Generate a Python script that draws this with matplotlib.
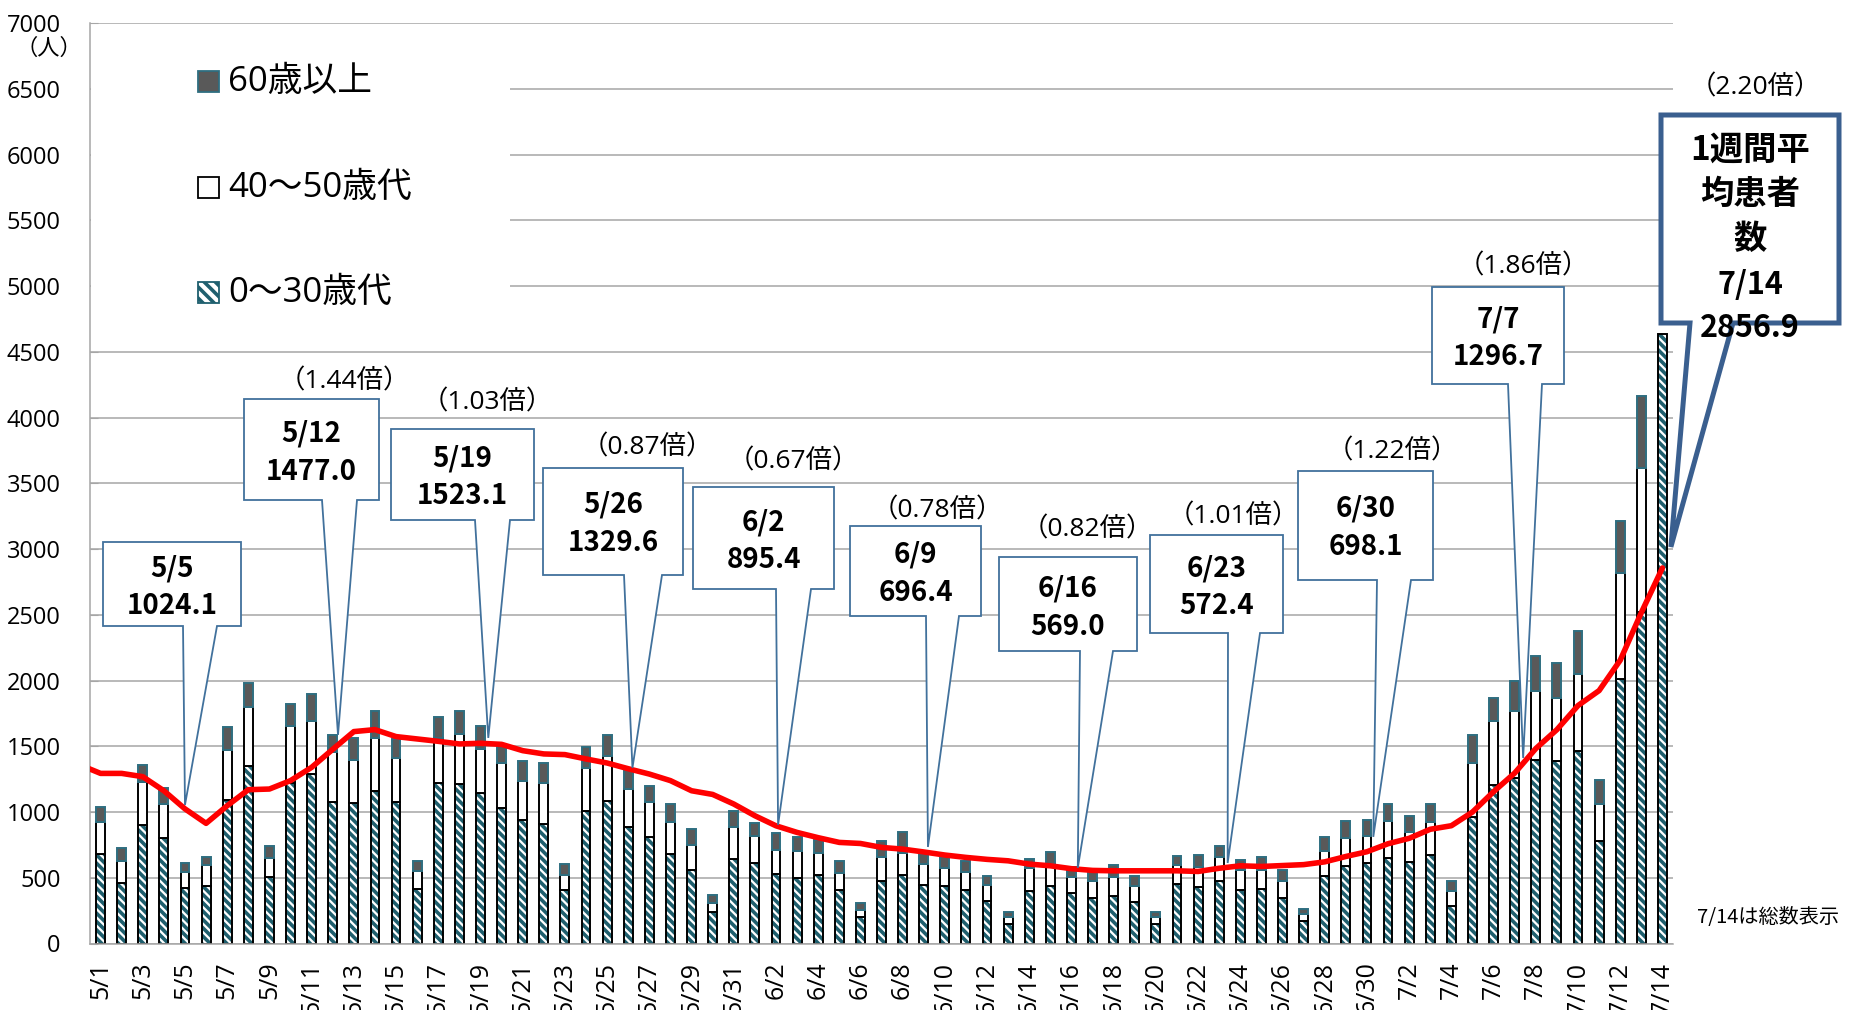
import numpy as np
import pandas as pd
import matplotlib
matplotlib.use("Agg")
import matplotlib.pyplot as plt
from matplotlib.patches import Polygon, Rectangle

plt.rcParams["font.family"] = ["Noto Sans CJK JP", "DejaVu Sans"]
plt.rcParams["hatch.linewidth"] = 2.6
num_font = ["Open Sans", "Noto Sans CJK JP", "DejaVu Sans"]

# ---- data -------------------------------------------------------------
dates = pd.date_range("2020-05-01", "2020-07-14")
date_labels = [f"{d.month}/{d.day}" for d in dates]

# 5/1 .. 7/13 by age group
age_0_30 = [680, 464, 901, 802, 419, 439, 1094, 1348, 508, 1221, 1289, 1074, 1066, 1162,
            1079, 414, 1218, 1216, 1145, 1028, 939, 906, 406, 1008, 1081, 888, 807, 680,
            558, 236, 642, 609, 528, 500, 520, 406, 198, 477, 520, 447, 439,
            409, 320, 147, 401, 439, 383, 345, 358, 312, 147, 452, 426, 477, 409,
            414, 345, 172, 510, 586, 610, 648, 621, 672, 283, 965, 1207, 1259, 1396, 1386,
            1465, 783, 2014, 2524]
age_40_50 = [246, 165, 325, 259, 127, 160, 378, 454, 142, 436, 406, 380, 332, 404,
             330, 134, 345, 378, 332, 345, 300, 312, 117, 327, 343, 287, 267, 241,
             191, 71, 246, 211, 180, 200, 170, 130, 56, 178, 170, 157, 135,
             132, 124, 51, 170, 165, 125, 132, 145, 122, 56, 144, 153, 183, 149,
             145, 131, 52, 197, 214, 207, 283, 224, 249, 120, 407, 483, 510, 528, 483,
             587, 279, 806, 1096]
age_60_up = [114, 94, 132, 119, 66, 61, 178, 178, 89, 165, 203, 135, 168, 200,
             147, 76, 158, 175, 175, 137, 149, 153, 79, 157, 160, 152, 126, 140,
             122, 61, 117, 99, 130, 107, 97, 88, 53, 124, 155, 76, 81,
             88, 71, 38, 71, 89, 76, 71, 93, 81, 38, 72, 94, 79, 77,
             96, 83, 41, 103, 131, 121, 131, 127, 138, 69, 214, 179, 231, 265, 262,
             327, 179, 397, 542]
total_0714 = 4635  # 7/14 total only

# 7-day average, 4/30 .. 7/14
weekly_avg = [1360,
              1294, 1294, 1269, 1162, 1024.1, 914, 1048, 1170, 1175, 1239, 1340, 1477.0, 1612, 1627,
              1574, 1556, 1538, 1518, 1523.1, 1515, 1467, 1442, 1437, 1404, 1373, 1329.6, 1289, 1239,
              1162, 1134, 1061, 972, 895.4, 845, 805, 769, 761, 731, 718, 696.4, 673,
              655, 640, 629, 604, 591, 569.0, 556, 553, 553, 553, 553, 548, 572.4, 591,
              586, 593, 600, 621, 662, 698.1, 759, 800, 869, 896, 1000, 1155, 1296.7, 1483, 1627,
              1810, 1924, 2155, 2517, 2856.9]

callout_dates = ["5/5", "5/12", "5/19", "5/26", "6/2", "6/9", "6/16", "6/23", "6/30", "7/7"]
callout_ratios = [None, "（1.44倍）", "（1.03倍）", "（0.87倍）", "（0.67倍）", "（0.78倍）",
                  "（0.82倍）", "（1.01倍）", "（1.22倍）", "（1.86倍）"]
last_ratio = "（2.20倍）"

# ---- layout (pixel positions in the 1862x1010 picture) ----------------
W, H = 1862, 1010
boxes = [(103, 542, 241, 626), (244, 399, 379, 500), (391, 429, 534, 520),
         (543, 468, 683, 575), (693, 487, 834, 589), (850, 526, 981, 616),
         (999, 557, 1137, 651), (1150, 535, 1283, 633), (1298, 471, 1433, 580),
         (1432, 287, 1564, 384)]
bases = [(183, 217), (322, 357), (475, 510), (624, 662), (776, 811), (926, 959),
         (1080, 1113), (1228, 1260), (1377, 1411), (1508, 1542)]
text_y = [568, 434, 458, 505, 522, 555, 589, 568, 509, 319]
ratio_pos = [None, (344, 382), (487, 403), (647, 448), (793, 462), (937, 511),
             (1087, 530), (1233, 517), (1392, 452), (1523, 267)]
tip_offsets = [(0.0, 30), (0.25, 110), (0.37, 41), (0.2, 6), (0.1, 7), (0.2, 38),
               (0.3, 6), (0.4, 40), (0.3, 113), (0.4, 115)]


def fx(px):
    return px / W


def fy(py):
    return 1 - py / H


fig = plt.figure(figsize=(W / 100, H / 100), dpi=100)
ax = fig.add_axes([fx(90), fy(943.5), (1673 - 90) / W, (943.5 - 23.3) / H])

n = len(age_0_30)
x = np.arange(n)
young = np.array(age_0_30)
mid = np.array(age_40_50)
old = np.array(age_60_up)
teal = "#1f5f6e"
bw = 0.42

# 0~30
ax.bar(x, young, bw, color="white", hatch="\\\\\\\\", edgecolor=teal, lw=0, zorder=2)
ax.bar(x, young, bw, fill=False, edgecolor="black", lw=1.4, zorder=2.1)
# 40~50
ax.bar(x, mid, bw, bottom=young, color="white", edgecolor="black", lw=1.4, zorder=2.1)
# 60+
ax.bar(x, old, bw, bottom=young + mid, color="#595959", edgecolor="#2e6e80", lw=1.4, zorder=2.1)
# 7/14 total
ax.bar([n], [total_0714], bw, color="white", hatch="\\\\\\\\", edgecolor=teal, lw=0, zorder=2)
ax.bar([n], [total_0714], bw, fill=False, edgecolor="black", lw=1.4, zorder=2.1)

ax.plot(np.arange(-1, len(weekly_avg) - 1), weekly_avg, color="#ff0000", lw=4,
        zorder=3, solid_joinstyle="round", solid_capstyle="round")

ax.set_xlim(-0.5, len(date_labels) - 0.5)
ax.set_ylim(0, 7000)
ax.set_yticks(range(0, 7001, 500))
ax.set_yticklabels([str(v) for v in range(0, 7001, 500)], family=num_font, fontsize=17)
ax.tick_params(axis="y", direction="in", length=6, color="#a6a6a6", pad=21)
ax.set_xticks(range(0, len(date_labels), 2))
ax.set_xticklabels(date_labels[::2], rotation=90, fontsize=18, family=num_font)
ax.tick_params(axis="x", length=0, pad=13)
ax.yaxis.grid(True, color="#a6a6a6", lw=1.1)
ax.set_axisbelow(True)
for s in ["top", "right"]:
    ax.spines[s].set_visible(False)
for s in ["left", "bottom"]:
    ax.spines[s].set_color("#a6a6a6")
    ax.spines[s].set_linewidth(1.1)

fig.text(fx(49), fy(48), "（人）", fontsize=16, ha="center", va="center")

# legend (white block over the gridlines)
fig.add_artist(Rectangle((fx(91), fy(320)), fx(510) - fx(91), fy(25) - fy(320),
                         transform=fig.transFigure, facecolor="white", edgecolor="none", zorder=1))
legend_items = [("60歳以上", dict(facecolor="#595959", edgecolor="#2e6e80")),
                ("40～50歳代", dict(facecolor="white", edgecolor="black")),
                ("0～30歳代", dict(facecolor="white", edgecolor=teal, hatch="\\\\\\"))]
for (label, style), cy in zip(legend_items, [82, 188, 293]):
    fig.add_artist(Rectangle((fx(198), fy(cy + 10)), 21 / W, 21 / H, transform=fig.transFigure,
                             lw=1.3, zorder=2, **style))
    fig.text(fx(228), fy(cy), label, fontsize=25, family=num_font, ha="left", va="center", zorder=2)


def tip_from_data(xd, yd):
    disp = ax.transData.transform((xd, yd))
    return fig.transFigure.inverted().transform(disp)


def callout(box, base, tip, lw, ec):
    x0, y0, x1, y1 = box
    b1, b2 = base
    pts = [(fx(x0), fy(y0)), (fx(x1), fy(y0)), (fx(x1), fy(y1)), (fx(b2), fy(y1)),
           tuple(tip), (fx(b1), fy(y1)), (fx(x0), fy(y1))]
    fig.add_artist(Polygon(pts, closed=True, transform=fig.transFigure, facecolor="white",
                           edgecolor=ec, lw=lw, zorder=5, joinstyle="miter"))


for k, d in enumerate(callout_dates):
    i = date_labels.index(d)
    dx, dy = tip_offsets[k]
    tip = tip_from_data(i + dx, weekly_avg[i + 1] + dy)
    callout(boxes[k], bases[k], tip, 1.3, "#41719c")
    cx = (boxes[k][0] + boxes[k][2]) / 2
    fig.text(fx(cx), fy(text_y[k]), d, fontsize=20, fontweight="bold", ha="center", va="center", zorder=6)
    fig.text(fx(cx), fy(text_y[k] + 38), f"{weekly_avg[i + 1]:.1f}", fontsize=20,
             fontweight="bold", ha="center", va="center", zorder=6)
    if callout_ratios[k]:
        rx, ry = ratio_pos[k]
        fig.text(fx(rx), fy(ry), callout_ratios[k], fontsize=19, family=num_font,
                 ha="center", va="center", zorder=6)

# 7/14 weekly average callout
i_last = len(date_labels) - 1
tip = tip_from_data(i_last + 0.4, weekly_avg[-1] + 160)
callout((1661, 115, 1839, 323), (1690, 1733), tip, 3.6, "#3a5f8f")
last_lines = ["1週間平", "均患者", "数", date_labels[-1], f"{weekly_avg[-1]:.1f}"]
last_sizes = [24, 24, 24, 22, 22]
for line, ly, fs in zip(last_lines, [150, 194, 239, 285, 328], last_sizes):
    fig.text(fx(1750), fy(ly), line, fontsize=fs, fontweight="bold", ha="center", va="center", zorder=6)
fig.text(fx(1755), fy(88), last_ratio, fontsize=19, family=num_font, ha="center", va="center", zorder=6)

fig.text(fx(1697), fy(918), "7/14は総数表示", fontsize=14.5, ha="left", va="center")

fig.savefig("out.png", dpi=100)
